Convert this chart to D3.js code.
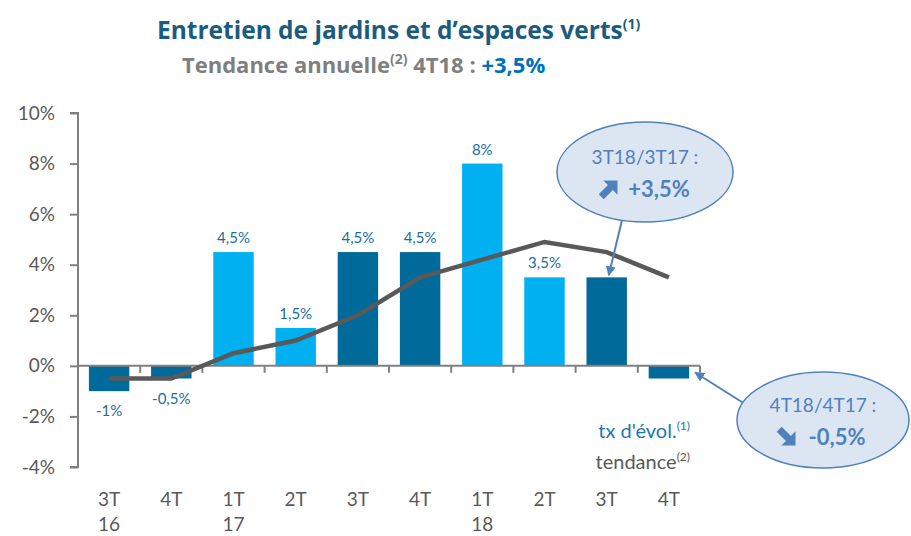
<!DOCTYPE html>
<html>
<head>
<meta charset="utf-8">
<script src="https://cdn.jsdelivr.net/npm/d3@7"></script>
<style>
  body { margin: 0; background: #fff; }
  svg { font-family: Lato, "Open Sans", sans-serif; }
</style>
</head>
<body>
<svg width="911" height="536"></svg>
<script>
const width = 911;
const height = 536;
const svg = d3.select("svg");

// data
const categories = ["3T16", "4T16", "1T17", "2T17", "3T17", "4T17", "1T18", "2T18", "3T18", "4T18"];
const quarterLabels = ["3T", "4T", "1T", "2T", "3T", "4T", "1T", "2T", "3T", "4T"];
const yearLabels = ["16", "", "17", "", "", "", "18", "", "", ""];
const growth = [-1, -0.5, 4.5, 1.5, 4.5, 4.5, 8, 3.5, 3.5, -0.5];
const growthLabels = ["-1%", "-0,5%", "4,5%", "1,5%", "4,5%", "4,5%", "8%", "3,5%", "", ""];
const shade = ["dark", "dark", "light", "light", "dark", "dark", "light", "light", "dark", "dark"];
const trend = [-0.5, -0.5, 0.5, 1.0, 2.0, 3.5, 4.2, 4.9, 4.5, 3.5];
const yTicks = [-4, -2, 0, 2, 4, 6, 8, 10];

const colors = { dark: "#006a9a", light: "#00b0f0" };
const axisColor = "#808080";
const calloutBlue = "#4f81bd";

const x = d3.scaleBand()
    .domain(categories)
    .range([78, 700])
    .paddingInner(0.35)
    .paddingOuter(0.175);

const y = d3.scaleLinear()
    .domain([-4, 10])
    .range([467, 113]);

const cx = c => x(c) + x.bandwidth() / 2;

// title
const title = svg.append("text")
    .attr("x", 157)
    .attr("y", 39)
    .attr("font-family", "'Open Sans', sans-serif")
    .attr("font-size", 24.5)
    .attr("font-weight", "bold")
    .attr("fill", "#1b5c7e");
title.append("tspan").text("Entretien de jardins et d\u2019espaces verts");
title.append("tspan").attr("font-size", 14).attr("dy", -10).text("(1)");

const sub = svg.append("text")
    .attr("x", 182)
    .attr("y", 73)
    .attr("font-family", "'Open Sans', sans-serif")
    .attr("font-size", 22)
    .attr("font-weight", "bold")
    .attr("fill", "#7f7f7f");
sub.append("tspan").text("Tendance annuelle");
sub.append("tspan").attr("font-size", 14).attr("dy", -9).text("(2)");
sub.append("tspan").attr("dy", 9).text(" 4T18 : ");
sub.append("tspan").attr("fill", "#0070c0").text("+3,5%");

// bars
svg.append("g")
    .selectAll("rect")
    .data(categories)
    .join("rect")
    .attr("x", d => x(d))
    .attr("width", x.bandwidth())
    .attr("y", (d, i) => y(Math.max(0, growth[i])))
    .attr("height", (d, i) => Math.abs(y(growth[i]) - y(0)))
    .attr("fill", (d, i) => colors[shade[i]]);

// y axis
const yAxis = svg.append("g")
    .attr("transform", "translate(78,0)")
    .call(d3.axisLeft(y).tickValues(yTicks).tickSize(8).tickFormat(d => d + "%"));
yAxis.select(".domain").attr("stroke", axisColor).attr("stroke-width", 2)
    .attr("d", `M-8,${y(10)}H0V${y(-4)}H-8`);
yAxis.selectAll(".tick line").attr("stroke", axisColor).attr("stroke-width", 2);
yAxis.selectAll(".tick text")
    .attr("x", -23)
    .attr("font-size", 19)
    .attr("fill", "#595959")
    .attr("font-family", "Lato, sans-serif");

// x axis line at zero with boundary ticks
const xAxis = svg.append("g");
xAxis.append("line")
    .attr("x1", 78).attr("x2", 700)
    .attr("y1", y(0)).attr("y2", y(0))
    .attr("stroke", axisColor).attr("stroke-width", 2);
const step = x.step();
xAxis.selectAll("line.tick")
    .data(d3.range(1, categories.length + 1))
    .join("line")
    .attr("class", "tick")
    .attr("x1", i => 78 + i * step)
    .attr("x2", i => 78 + i * step)
    .attr("y1", y(0))
    .attr("y2", y(0) + 7)
    .attr("stroke", axisColor).attr("stroke-width", 2);

xAxis.selectAll("text.q")
    .data(categories)
    .join("text")
    .attr("class", "q")
    .attr("x", d => cx(d))
    .attr("y", 506)
    .attr("text-anchor", "middle")
    .attr("font-size", 19)
    .attr("fill", "#595959")
    .text((d, i) => quarterLabels[i]);
xAxis.selectAll("text.yr")
    .data(categories)
    .join("text")
    .attr("class", "yr")
    .attr("x", d => cx(d))
    .attr("y", 531)
    .attr("text-anchor", "middle")
    .attr("font-size", 19)
    .attr("fill", "#595959")
    .text((d, i) => yearLabels[i]);

// trend line
const line = d3.line()
    .x((d, i) => cx(categories[i]))
    .y(d => y(d));
svg.append("path")
    .datum(trend)
    .attr("d", line)
    .attr("fill", "none")
    .attr("stroke", "#595959")
    .attr("stroke-width", 4.5);

// value labels
svg.append("g")
    .selectAll("text")
    .data(categories)
    .join("text")
    .attr("x", d => cx(d))
    .attr("y", (d, i) => growth[i] >= 0 ? y(growth[i]) - 9 : y(growth[i]) + 25)
    .attr("text-anchor", "middle")
    .attr("font-size", 15)
    .attr("fill", "#1a6e9a")
    .text((d, i) => growthLabels[i]);

// legend text
const leg1 = svg.append("text")
    .attr("x", 690).attr("y", 438)
    .attr("text-anchor", "end")
    .attr("font-size", 20)
    .attr("fill", "#1a7ab0");
leg1.append("tspan").text("tx d'\u00e9vol.");
leg1.append("tspan").attr("font-size", 12).attr("dy", -8).text("(1)");
const leg2 = svg.append("text")
    .attr("x", 690).attr("y", 469)
    .attr("text-anchor", "end")
    .attr("font-size", 20)
    .attr("fill", "#595959");
leg2.append("tspan").text("tendance");
leg2.append("tspan").attr("font-size", 12).attr("dy", -8).text("(2)");

// callouts
const defs = svg.append("defs");
defs.append("marker")
    .attr("id", "arrow")
    .attr("viewBox", "0 0 10 10")
    .attr("refX", 9).attr("refY", 5)
    .attr("markerWidth", 5).attr("markerHeight", 5)
    .attr("orient", "auto")
    .append("path")
    .attr("d", "M0,0L10,5L0,10z")
    .attr("fill", calloutBlue);

function bigArrow(g, px, py, down) {
    // thick diagonal arrow icon
    const a = g.append("g").attr("transform", `translate(${px},${py}) rotate(${down ? 45 : -45})`);
    a.append("path")
        .attr("d", "M-11,-3.5H2V-10L12,0L2,10V3.5H-11Z")
        .attr("fill", calloutBlue);
}

function callout(ex, ey, rx, ry, line1, value, down, from, to) {
    const g = svg.append("g");
    g.append("line")
        .attr("x1", from[0]).attr("y1", from[1])
        .attr("x2", to[0]).attr("y2", to[1])
        .attr("stroke", calloutBlue)
        .attr("stroke-width", 2)
        .attr("marker-end", "url(#arrow)");
    g.append("ellipse")
        .attr("cx", ex).attr("cy", ey)
        .attr("rx", rx).attr("ry", ry)
        .attr("fill", "#dce6f2")
        .attr("stroke", calloutBlue)
        .attr("stroke-width", 1.5);
    g.append("text")
        .attr("x", ex).attr("y", ey - 8)
        .attr("text-anchor", "middle")
        .attr("font-size", 19)
        .attr("fill", calloutBlue)
        .text(line1);
    g.append("text")
        .attr("x", ex + 14).attr("y", ey + 25)
        .attr("text-anchor", "middle")
        .attr("font-size", 22)
        .attr("font-weight", "bold")
        .attr("fill", calloutBlue)
        .text(value);
    bigArrow(g, ex - 36, ey + 17, down);
}

callout(645, 172, 88, 50, "3T18/3T17 :", "+3,5%", false,
    [623, 216], [cx("3T18") + 2, y(3.5) - 2]);
callout(823, 420, 86, 48, "4T18/4T17 :", "-0,5%", true,
    [745, 404], [x("4T18") + x.bandwidth() + 6, y(-0.5) - 6]);
</script>
</body>
</html>
